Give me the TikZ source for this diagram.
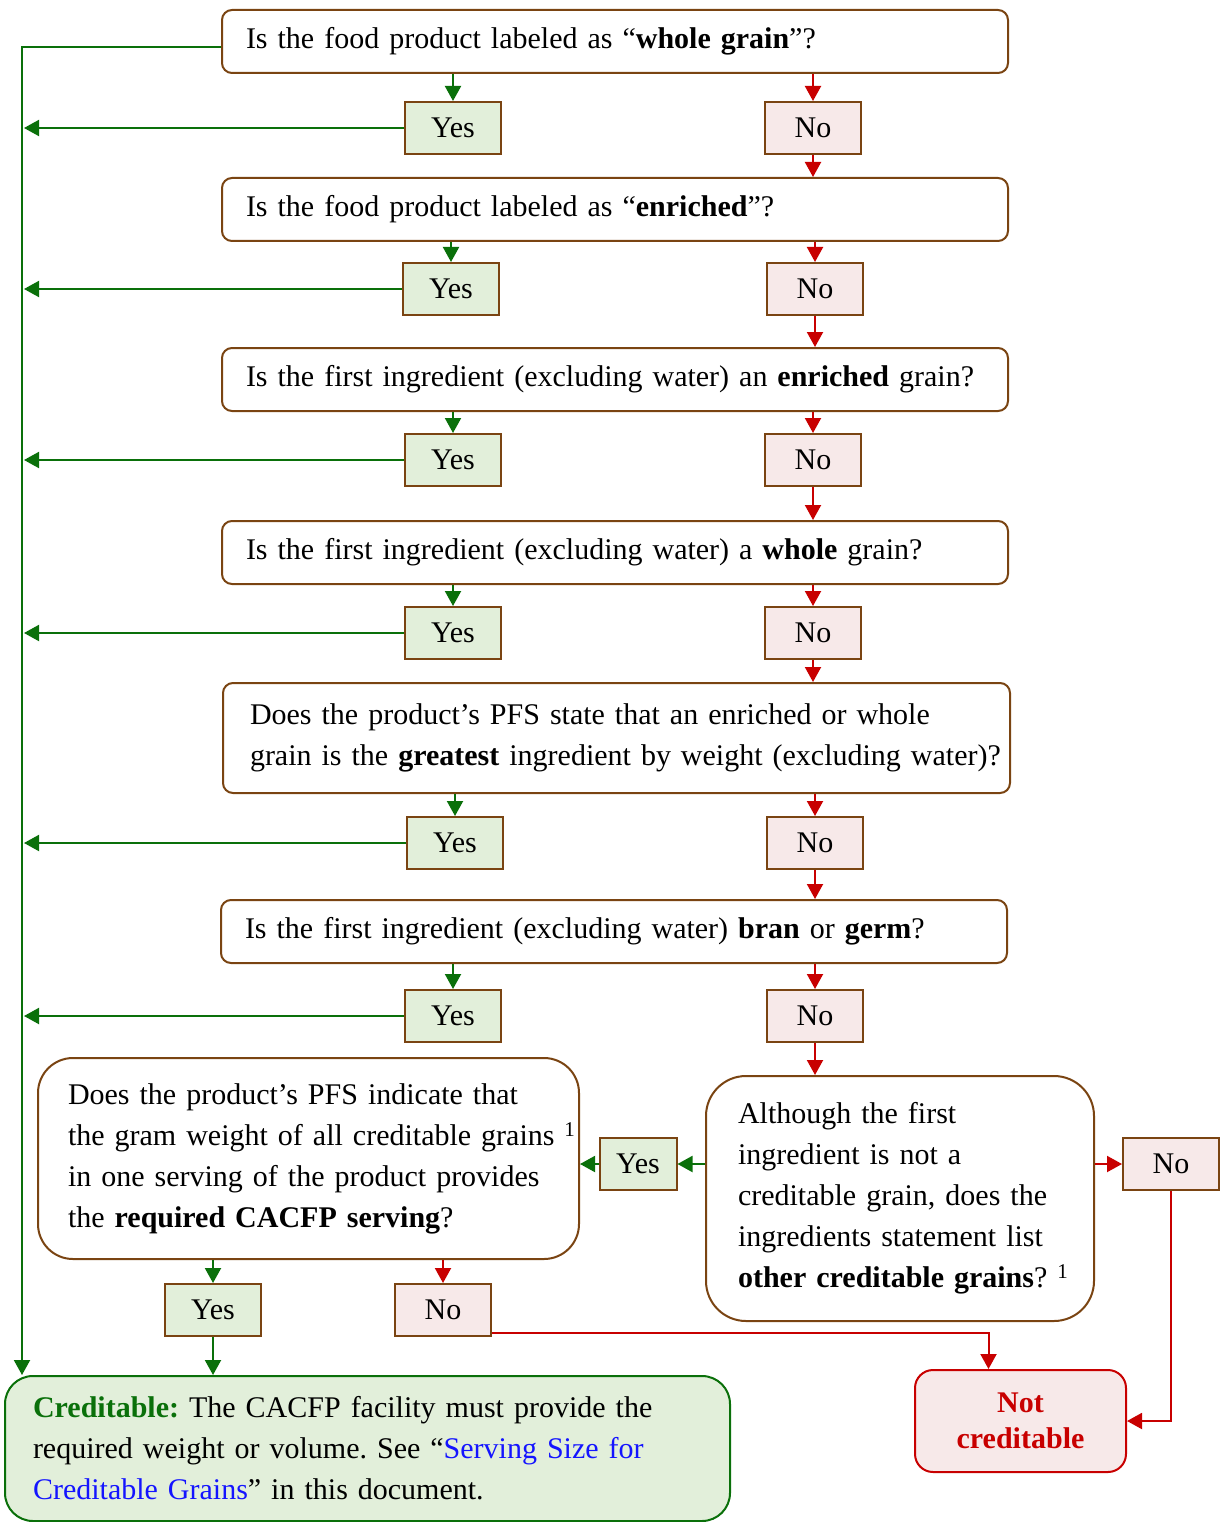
\documentclass[tikz,border=0pt]{standalone}
\usepackage{fontspec}
\setmainfont{Liberation Serif}
\usepackage{xcolor}
\usepackage{tikz}
\usetikzlibrary{arrows.meta, positioning}
\frenchspacing
\definecolor{yesgreen}{HTML}{0A700A}
\definecolor{nored}{HTML}{C80000}
\definecolor{boxbrown}{HTML}{7A4412}
\definecolor{linkblue}{HTML}{1414FF}
\definecolor{yesfill}{HTML}{E2EFDA}
\definecolor{nofill}{HTML}{F7E9E9}
\tikzset{
  boxtext/.style={font=\fontsize{30pt}{41pt}\selectfont, execute at begin node={\rightskip=0pt plus 1fil minus 300pt\relax}},
  question/.style={rectangle, rounded corners=10pt, draw=boxbrown, line width=2pt, fill=white, align=left, boxtext, inner xsep=24pt, inner ysep=0pt, text width=738pt, minimum height=63pt},
  yesbox/.style={rectangle, draw=boxbrown, line width=2pt, fill=yesfill, font=\fontsize{30pt}{41pt}\selectfont, inner sep=0pt, minimum width=96pt, minimum height=52pt},
  nobox/.style={yesbox, fill=nofill},
  creditable/.style={rectangle, rounded corners=28pt, draw=yesgreen, line width=2pt, fill=yesfill, align=left, boxtext, inner xsep=28pt, inner ysep=0pt, text width=669pt, minimum height=145pt},
  notcred/.style={rectangle, rounded corners=18pt, draw=nored, line width=2pt, fill=nofill, text=nored, align=center, font=\fontsize{30pt}{36pt}\selectfont\bfseries, minimum width=211pt, minimum height=102pt},
  garr/.style={-{Triangle[length=15pt,width=16pt]}, line width=2pt, yesgreen},
  rarr/.style={-{Triangle[length=15pt,width=16pt]}, line width=2pt, nored},
}
\begin{document}
\begin{tikzpicture}[x=1pt, y=-1pt]
\useasboundingbox (0,0) rectangle (1225,1522);
\coordinate (trunk) at (24,0);

% question chain
\node[question, anchor=north west] (q1) at (221,9) {Is the food product labeled as “\textbf{whole grain}”?};
\node[question, anchor=north west] (q2) at (221,177) {Is the food product labeled as “\textbf{enriched}”?};
\node[question, anchor=north west] (q3) at (221,347) {Is the first ingredient (excluding water) an \textbf{enriched} grain?};
\node[question, anchor=north west] (q4) at (221,520) {Is the first ingredient (excluding water) a \textbf{whole} grain?};
\node[question, anchor=north west, text width=733pt, inner xsep=27pt, minimum height=110pt] (q5) at (222,682) {Does the product’s PFS state that an enriched or whole\\grain is the \textbf{greatest} ingredient by weight (excluding water)?};
\node[question, anchor=north west] (q6) at (220,899) {Is the first ingredient (excluding water) \textbf{bran} or \textbf{germ}?};
\node[question, anchor=north west, rounded corners=40pt, text width=324pt, inner xsep=32pt, minimum height=245pt] (q7) at (705,1075) {Although the first\\ingredient is not a\\creditable grain, does the\\ingredients statement list\\\textbf{other creditable grains}? \textsuperscript{1}};
\node[question, anchor=north west, rounded corners=35pt, text width=481pt, inner xsep=30pt, minimum height=201pt] (q8) at (37,1057) {Does the product’s PFS indicate that\\the gram weight of all creditable grains \textsuperscript{1}\\in one serving of the product provides\\the \textbf{required CACFP serving}?};

% answers
\node[yesbox] (y1) at (453,128) {Yes}; \node[nobox] (n1) at (813,128) {No};
\node[yesbox] (y2) at (451,289) {Yes}; \node[nobox] (n2) at (815,289) {No};
\node[yesbox] (y3) at (453,460) {Yes}; \node[nobox] (n3) at (813,460) {No};
\node[yesbox] (y4) at (453,633) {Yes}; \node[nobox] (n4) at (813,633) {No};
\node[yesbox] (y5) at (455,843) {Yes}; \node[nobox] (n5) at (815,843) {No};
\node[yesbox] (y6) at (453,1016) {Yes}; \node[nobox] (n6) at (815,1016) {No};
\node[yesbox, minimum width=77pt] (y7) at (638,1164) {Yes}; \node[nobox] (n7) at (1171,1164) {No};
\node[yesbox] (y8) at (213,1310) {Yes}; \node[nobox] (n8) at (443,1310) {No};

% outcomes
\node[creditable, anchor=north west] (cred) at (4,1375) {\textcolor{yesgreen}{\textbf{Creditable:}} The CACFP facility must provide the\\required weight or volume. See “\textcolor{linkblue}{Serving Size for}\\\textcolor{linkblue}{Creditable Grains}” in this document.};
\node[notcred, anchor=north west] (notc) at (914,1369) {Not\\creditable};

% connectors
\draw[garr] ([yshift=-6pt]q1.west) -| ([xshift=18pt]cred.north west);
\draw[garr] (q1.south -| y1.north) -- (y1.north); \draw[rarr] (q1.south -| n1.north) -- (n1.north);
\draw[garr] (q2.south -| y2.north) -- (y2.north); \draw[rarr] (q2.south -| n2.north) -- (n2.north);
\draw[garr] (q3.south -| y3.north) -- (y3.north); \draw[rarr] (q3.south -| n3.north) -- (n3.north);
\draw[garr] (q4.south -| y4.north) -- (y4.north); \draw[rarr] (q4.south -| n4.north) -- (n4.north);
\draw[garr] (q5.south -| y5.north) -- (y5.north); \draw[rarr] (q5.south -| n5.north) -- (n5.north);
\draw[garr] (q6.south -| y6.north) -- (y6.north); \draw[rarr] (q6.south -| n6.north) -- (n6.north);
\draw[rarr] (n1.south) -- (n1.south |- q2.north); \draw[rarr] (n2.south) -- (n2.south |- q3.north);
\draw[rarr] (n3.south) -- (n3.south |- q4.north); \draw[rarr] (n4.south) -- (n4.south |- q5.north);
\draw[rarr] (n5.south) -- (n5.south |- q6.north); \draw[rarr] (n6.south) -- (n6.south |- q7.north);
\draw[garr] (y1.west) -- (y1.west -| trunk); \draw[garr] (y2.west) -- (y2.west -| trunk);
\draw[garr] (y3.west) -- (y3.west -| trunk); \draw[garr] (y4.west) -- (y4.west -| trunk);
\draw[garr] (y5.west) -- (y5.west -| trunk); \draw[garr] (y6.west) -- (y6.west -| trunk);
\draw[garr] (q7.west |- y7.east) -- (y7.east); \draw[garr] (y7.west) -- (q8.east |- y7.west);
\draw[rarr] (q7.east |- n7.west) -- (n7.west); \draw[rarr] (n7.south) |- (notc.east);
\draw[garr] (q8.south -| y8.north) -- (y8.north); \draw[rarr] (q8.south -| n8.north) -- (n8.north);
\draw[garr] (y8.south) -- (y8.south |- cred.north);
\draw[rarr] ([yshift=4pt]n8.south east) -| ([xshift=-32pt]notc.north);
\end{tikzpicture}
\end{document}
